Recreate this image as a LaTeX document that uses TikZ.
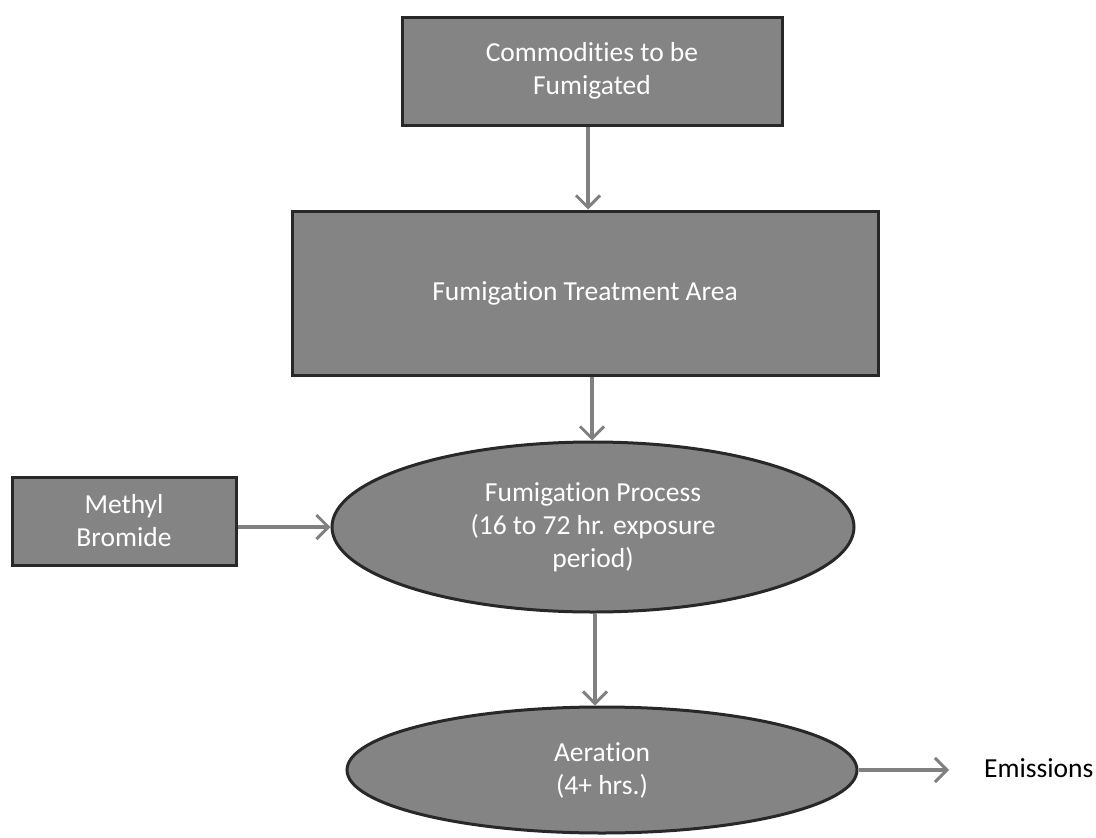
\documentclass[tikz,border=0pt]{standalone}
\usepackage{fontspec}
\setmainfont{Carlito}[Ligatures=NoCommon]
\usetikzlibrary{shapes.geometric,arrows.meta,calc}
\definecolor{boxfill}{RGB}{132,132,132}
\definecolor{boxline}{RGB}{40,40,40}
\definecolor{arrowgray}{RGB}{128,128,128}
\tikzset{
  blk/.style={draw=boxline, line width=3pt, fill=boxfill, text=white,
    font=\fontsize{27.5}{33}\selectfont, align=center, inner sep=0pt},
  rbox/.style={blk, rectangle},
  ebox/.style={blk, ellipse},
  flow/.style={draw=arrowgray, line width=4pt,
    -{Straight Barb[length=12pt,width=24pt,line width=3pt]}},
  plain/.style={font=\fontsize{27.5}{33}\selectfont, text=black, inner sep=0pt},
}
\begin{document}
\begin{tikzpicture}[x=1pt,y=-1pt]
\useasboundingbox (0,0) rectangle (1096,838);
\node[rbox, minimum width=380pt, minimum height=108pt] (com) at (592,71) {Commodities to be\\Fumigated};
\node[rbox, minimum width=586pt, minimum height=164pt] (fta) at (585,293) {Fumigation Treatment Area};
\node[ebox, minimum width=522pt, minimum height=170pt] (proc) at (593,527) {Fumigation Process\\(16 to 72 hr. exposure\\period)};
\node[rbox, minimum width=224pt, minimum height=88pt] (mb) at (124,521) {Methyl\\Bromide};
\node[ebox, minimum width=510pt, minimum height=126pt] (aer) at (602,770) {Aeration\\(4+ hrs.)};
\node[plain, anchor=west] (em) at (984,768) {Emissions};
\coordinate (c1) at (588,0);
\coordinate (c2) at (592,0);
\coordinate (c3) at (595,0);
\draw[flow] (com.south -| c1) -- (fta.north -| c1);
\draw[flow] (fta.south -| c2) -- (proc.north -| c2);
\draw[flow] (proc.south -| c3) -- (aer.north -| c3);
\draw[flow] (mb.east |- proc.west) -- (proc.west);
\draw[flow, shorten >=35pt] (aer.east) -- (aer.east -| em.west);
\end{tikzpicture}
\end{document}
